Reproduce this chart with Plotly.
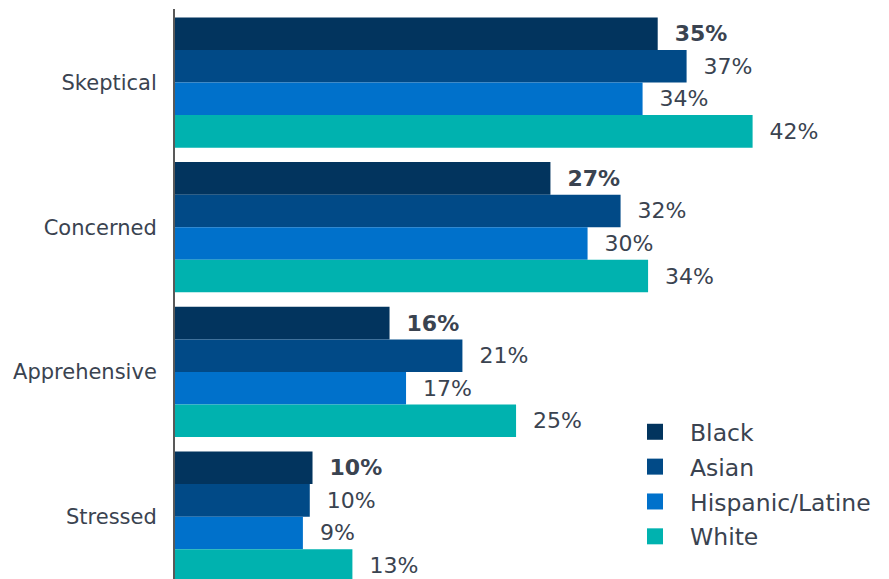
import plotly.graph_objects as go

categories = ["Skeptical", "Concerned", "Apprehensive", "Stressed"]
series_names = ["Black", "Asian", "Hispanic/Latine", "White"]
black = [35.1, 27.3, 15.6, 10.0]
asian = [37.2, 32.4, 20.9, 9.8]
hispanic = [34.0, 30.0, 16.8, 9.3]
white = [42.0, 34.4, 24.8, 12.9]
series_values = [black, asian, hispanic, white]
colors = ["#02345e", "#014a87", "#0071cb", "#00b2af"]

TEXT = "#3a4350"
FONT = "DejaVu Sans, Verdana, sans-serif"
NB = "\u00a0\u00a0"

fig = go.Figure()
for i, (name, vals, col) in enumerate(zip(series_names, series_values, colors)):
    if i == 0:
        tmpl = NB + "<b>%{x:.0f}%</b>"
    else:
        tmpl = NB + "%{x:.0f}%"
    fig.add_trace(go.Bar(
        y=categories, x=vals, name=name, orientation="h",
        marker=dict(color=col, line=dict(width=0)),
        texttemplate=tmpl, textposition="outside",
        outsidetextfont=dict(family=FONT, size=22, color=TEXT),
        constraintext="none", cliponaxis=False,
        showlegend=False, hoverinfo="skip",
    ))
    fig.add_trace(go.Scatter(
        x=[None], y=[None], mode="markers", name=name,
        marker=dict(symbol="square", size=16, color=col),
        legendgroup=name, showlegend=True,
    ))

fig.update_layout(
    width=889, height=579,
    margin=dict(l=167, r=0, t=1, b=0, autoexpand=False),
    paper_bgcolor="white", plot_bgcolor="white",
    barmode="group", bargap=0.1, bargroupgap=0,
    font=dict(family=FONT, size=21, color=TEXT),
    xaxis=dict(range=[0, 52.5], visible=False, showgrid=False, zeroline=False,
               automargin=False),
    yaxis=dict(
        type="category", range=[3.486, -0.508], autorange=False,
        showline=True, linecolor="#595959", linewidth=2,
        showgrid=False, zeroline=False, ticks="",
        ticklabelstandoff=12, automargin=False,
        tickfont=dict(family=FONT, size=21, color=TEXT),
    ),
    legend=dict(
        xref="paper", yref="paper",
        x=(612 - 167) / 722, y=(579 - 402) / 578, xanchor="left", yanchor="top",
        font=dict(family=FONT, size=23.5, color=TEXT),
        itemsizing="trace", traceorder="grouped", itemwidth=60,
        tracegroupgap=1.3, bgcolor="rgba(0,0,0,0)",
    ),
)

fig.write_html("out.html")
